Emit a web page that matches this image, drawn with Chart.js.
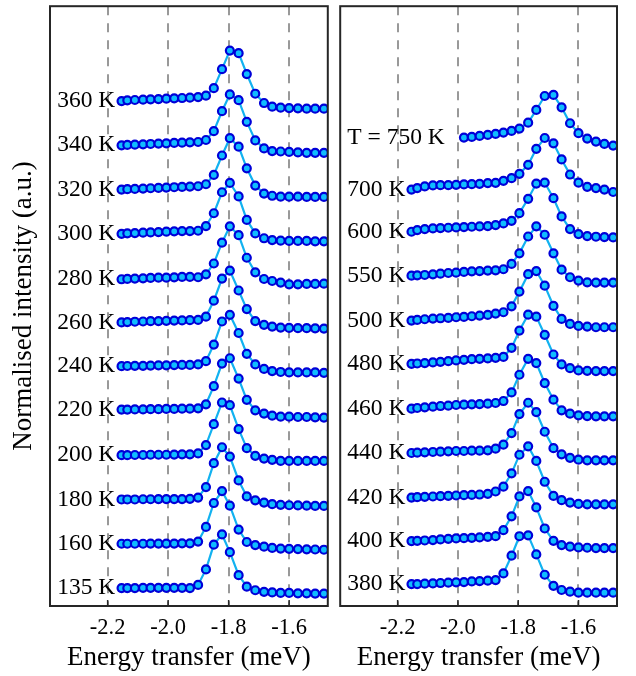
<!DOCTYPE html>
<html>
<head>
<meta charset="utf-8">
<script src="https://cdn.jsdelivr.net/npm/chart.js@4.4.1/dist/chart.umd.min.js"></script>
<style>
html,body{margin:0;padding:0;background:#fff;}
#wrap{position:relative;width:636px;height:676px;}
#left{position:absolute;left:0;top:0;}
#right{position:absolute;left:334px;top:0;}
</style>
</head>
<body>
<div id="wrap">
<canvas id="left" width="334" height="676"></canvas>
<canvas id="right" width="302" height="676"></canvas>
</div>
<script>

// energy grid (meV)
const energy=[-2.154,-2.135,-2.110,-2.083,-2.058,-2.032,-2.006,-1.980,-1.954,-1.928,-1.901,-1.875,-1.849,
              -1.822,-1.796,-1.767,-1.740,-1.712,-1.683,-1.656,-1.628,-1.600,-1.571,-1.542,-1.514,-1.485];

const xTicks=[-2.2,-2.0,-1.8,-1.6];

// left panel
const leftLabels=["135 K","160 K","180 K","200 K","220 K","240 K","260 K","280 K","300 K","320 K","340 K","360 K"];
const leftOffsets=[0,1,2,3,4,5,6,7,8,9,10,11];

const s135=[0,0,0,0.005,0.005,0.005,0.005,0.005,0.005,0,0.07,0.42,0.98,1.21,0.81,0.29,0.03,-0.05,-0.085,-0.10,-0.11,-0.11,-0.12,-0.12,-0.125,-0.125];
const s160=[0,0,0,0,0.005,0.005,0.005,0.005,0.01,0.01,0.05,0.38,0.92,1.19,0.86,0.32,0.04,-0.03,-0.065,-0.095,-0.11,-0.115,-0.12,-0.125,-0.13,-0.135];
const s180=[0,0,0,0.005,0.005,0.01,0.01,0.01,0.01,0.015,0.044,0.28,0.82,1.18,0.97,0.43,0.07,-0.02,-0.07,-0.105,-0.12,-0.13,-0.135,-0.14,-0.145,-0.145];
const s200=[0,0,0.005,0.005,0.01,0.01,0.01,0.015,0.02,0.02,0.04,0.23,0.70,1.19,1.13,0.59,0.16,-0.015,-0.075,-0.105,-0.13,-0.13,-0.13,-0.13,-0.13,-0.13];
const s220=[0.03,0.03,0.035,0.035,0.04,0.04,0.045,0.045,0.05,0.05,0.06,0.15,0.56,1.07,1.19,0.73,0.25,0.014,-0.06,-0.107,-0.13,-0.13,-0.137,-0.137,-0.144,-0.15];
const s240=[0.01,0.015,0.02,0.02,0.025,0.03,0.03,0.035,0.04,0.04,0.05,0.125,0.50,1.02,1.17,0.76,0.29,0.05,-0.05,-0.10,-0.12,-0.13,-0.13,-0.13,-0.13,-0.14];
const s260=[0,0.008,0.015,0.02,0.027,0.03,0.035,0.04,0.045,0.05,0.055,0.13,0.49,0.99,1.17,0.72,0.30,0.03,-0.056,-0.094,-0.116,-0.124,-0.13,-0.13,-0.135,-0.139];
const s280=[-0.026,-0.019,-0.011,-0.004,0.004,0.011,0.011,0.019,0.026,0.026,0.02,0.086,0.33,0.80,1.17,0.97,0.46,0.13,-0.02,-0.065,-0.10,-0.14,-0.14,-0.13,-0.13,-0.125];
const s300=[0,0.011,0.018,0.026,0.033,0.041,0.048,0.056,0.063,0.063,0.07,0.176,0.465,0.94,1.15,0.845,0.315,0.01,-0.10,-0.14,-0.155,-0.16,-0.16,-0.16,-0.17,-0.17];
const s320=[0,0.008,0.015,0.023,0.03,0.038,0.045,0.053,0.06,0.068,0.075,0.12,0.33,0.77,1.16,0.97,0.48,0.09,-0.09,-0.14,-0.16,-0.16,-0.16,-0.165,-0.165,-0.165];
const s340=[0,0.008,0.015,0.023,0.03,0.038,0.045,0.053,0.06,0.068,0.075,0.12,0.32,0.77,1.15,1.02,0.53,0.11,-0.07,-0.13,-0.14,-0.15,-0.16,-0.17,-0.17,-0.17];
const s360=[0,0.015,0.023,0.03,0.038,0.045,0.053,0.06,0.068,0.075,0.09,0.12,0.29,0.72,1.14,1.08,0.61,0.165,-0.045,-0.128,-0.15,-0.158,-0.165,-0.173,-0.173,-0.173];

const leftSeries=[s135,s160,s180,s200,s220,s240,s260,s280,s300,s320,s340,s360];

// right panel
const rightLabels=["380 K","400 K","420 K","440 K","460 K","480 K","500 K","550 K","600 K","700 K","T = 750 K"];
const rightOffsets=[0,1,2,3,4,5,6,7,8,9,10];

const s380=[0.09,0.09,0.098,0.105,0.113,0.12,0.128,0.135,0.15,0.158,0.165,0.18,0.33,0.73,1.17,1.19,0.76,0.30,0.05,-0.045,-0.083,-0.105,-0.105,-0.105,-0.105,-0.105];
const s400=[0.06,0.067,0.074,0.082,0.097,0.112,0.12,0.127,0.134,0.142,0.157,0.172,0.307,0.62,1.07,1.19,0.82,0.345,0.067,-0.03,-0.067,-0.082,-0.09,-0.098,-0.098,-0.098];
const s420=[0.044,0.052,0.06,0.067,0.074,0.082,0.09,0.097,0.104,0.112,0.127,0.18,0.29,0.59,1.01,1.20,0.87,0.40,0.08,-0.016,-0.07,-0.10,-0.11,-0.11,-0.11,-0.11];
const s440=[0.05,0.058,0.065,0.073,0.08,0.088,0.095,0.095,0.103,0.103,0.11,0.148,0.238,0.50,0.93,1.185,0.975,0.53,0.16,0.02,-0.06,-0.10,-0.115,-0.115,-0.115,-0.115];
const s460=[0.051,0.066,0.081,0.096,0.111,0.119,0.134,0.141,0.149,0.156,0.164,0.179,0.224,0.419,0.817,1.178,1.08,0.63,0.254,0.014,-0.062,-0.10,-0.115,-0.122,-0.122,-0.122];
const s480=[0.065,0.072,0.08,0.095,0.11,0.125,0.14,0.155,0.17,0.177,0.185,0.2,0.22,0.425,0.815,1.175,1.13,0.72,0.275,0.05,-0.033,-0.085,-0.094,-0.10,-0.10,-0.10];
const s500=[0.04,0.056,0.071,0.086,0.093,0.101,0.116,0.124,0.139,0.154,0.169,0.199,0.229,0.364,0.695,1.09,1.16,0.83,0.372,0.078,-0.035,-0.08,-0.095,-0.11,-0.11,-0.11];
const s550=[0.056,0.064,0.071,0.086,0.10,0.116,0.124,0.139,0.154,0.16,0.17,0.177,0.20,0.32,0.56,0.94,1.17,0.98,0.56,0.19,0.02,-0.056,-0.094,-0.10,-0.10,-0.10];
const s600=[0.047,0.085,0.108,0.123,0.13,0.138,0.145,0.153,0.16,0.168,0.175,0.198,0.235,0.295,0.468,0.791,1.136,1.158,0.805,0.393,0.108,-0.005,-0.05,-0.065,-0.073,-0.08];
const s700=[0,0.033,0.071,0.093,0.1,0.1,0.108,0.116,0.123,0.131,0.146,0.153,0.198,0.258,0.355,0.56,0.92,1.165,1.045,0.68,0.34,0.155,0.063,0.033,0.0,-0.055];
const s750=[null,null,null,null,null,null,null,0.174,0.189,0.212,0.234,0.257,0.287,0.325,0.377,0.512,0.798,1.114,1.137,0.858,0.498,0.273,0.152,0.084,0.032,-0.006];

const rightSeries=[s380,s400,s420,s440,s460,s480,s500,s550,s600,s700,s750];

const X_MIN=-2.3906, X_MAX=-1.4722;
const Y_MIN=-0.406, Y_MAX=13.142;
const LABEL_X=-2.367;

const FONT="'Liberation Serif', 'Times New Roman', serif";
const LINE_COLOR="#12b2f0";
const POINT_FILL="#10bcff";
const POINT_EDGE="#0000d8";


// frame, inner ticks and curve labels
const panelDecor={
    id:"panelDecor",
    afterDatasetsDraw(chart){
        const ctx=chart.ctx;
        const a=chart.chartArea;
        const x=chart.scales.x;
        const y=chart.scales.y;
        ctx.save();
        ctx.strokeStyle="#262626";
        ctx.lineWidth=1.5;
        x.ticks.forEach(t=>{
            let px=x.getPixelForValue(t.value);
            ctx.beginPath();
            ctx.moveTo(px,a.bottom);
            ctx.lineTo(px,a.bottom-6);
            ctx.stroke();
        });
        ctx.lineWidth=2;
        ctx.strokeRect(a.left,a.top,a.right-a.left,a.bottom-a.top);

        ctx.fillStyle="#000";
        ctx.font="23.5px "+FONT;
        ctx.textAlign="left";
        ctx.textBaseline="middle";
        chart.data.datasets.forEach(ds=>{
            let first=ds.data[0];
            ctx.fillText(ds.label,x.getPixelForValue(LABEL_X),y.getPixelForValue(first.y));
        });
        ctx.restore();
    }
};


function drawPanel(canvasId,labels,series,offsets,padding,showYTitle){

    let datasets=[];

    series.forEach((s,k)=>{
        let data=
            s
            .map((v,i)=>({x:energy[i],y:v===null?null:v+offsets[k]}))
            .filter(p=>p.y!==null);

        datasets.push({
            label:labels[k],
            data:data,
            borderColor:LINE_COLOR,
            borderWidth:2.2,
            pointRadius:4,
            pointBorderWidth:2.2,
            pointBackgroundColor:POINT_FILL,
            pointBorderColor:POINT_EDGE,
            fill:false,
            tension:0
        });
    });

    return new Chart(
        document.getElementById(canvasId),
        {
            type:"line",
            data:{datasets:datasets},
            plugins:[panelDecor],
            options:{
                responsive:false,
                animation:false,
                events:[],
                layout:{padding:padding},
                plugins:{
                    legend:{display:false},
                    tooltip:{enabled:false}
                },
                scales:{
                    x:{
                        type:"linear",
                        min:X_MIN,
                        max:X_MAX,
                        afterBuildTicks:s=>{
                            s.ticks=xTicks.map(v=>({value:v}));
                        },
                        ticks:{
                            callback:v=>v.toFixed(1),
                            font:{family:FONT,size:22.5},
                            color:"#000",
                            padding:9,
                            maxRotation:0,
                            autoSkip:false
                        },
                        grid:{
                            color:"#999999",
                            lineWidth:2,
                            drawTicks:false
                        },
                        border:{
                            display:false,
                            dash:[9,8]
                        },
                        title:{
                            display:true,
                            text:"Energy transfer (meV)",
                            font:{family:FONT,size:27},
                            color:"#000",
                            padding:{top:0,bottom:2}
                        },
                        afterFit:s=>{
                            s.height=70;
                        }
                    },
                    y:{
                        type:"linear",
                        min:Y_MIN,
                        max:Y_MAX,
                        display:showYTitle,
                        ticks:{display:false},
                        grid:{display:false},
                        border:{display:false},
                        title:{
                            display:true,
                            text:"Normalised intensity (a.u.)",
                            font:{family:FONT,size:27},
                            color:"#000",
                            padding:{top:8,bottom:0}
                        },
                        afterFit:s=>{
                            s.width=showYTitle?50:0;
                        }
                    }
                }
            }
        }
    );
}

drawPanel("left",leftLabels,leftSeries,leftOffsets,{top:5,right:6,left:0,bottom:0},true);
drawPanel("right",rightLabels,rightSeries,rightOffsets,{top:5,right:19,left:5.5,bottom:0},false);

</script>
</body>
</html>
